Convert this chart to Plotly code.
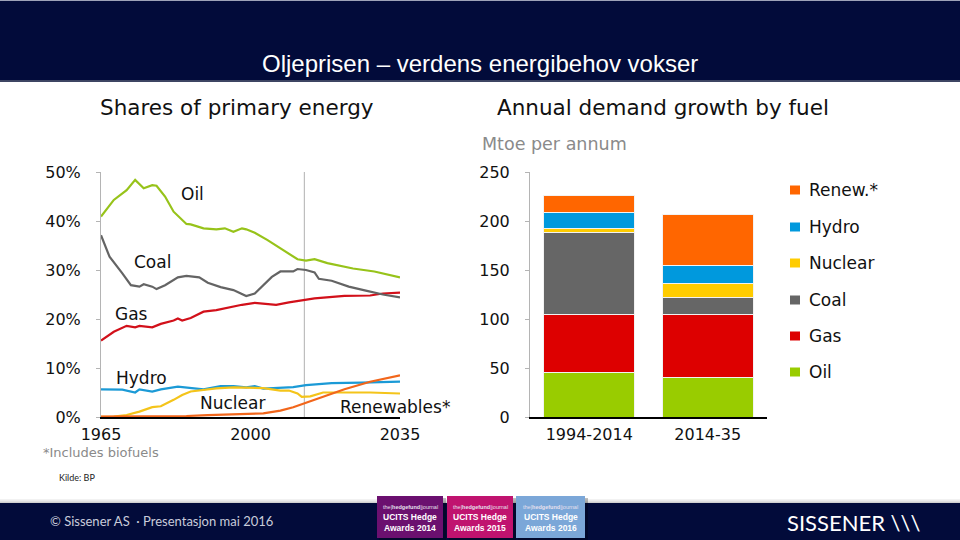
import plotly.graph_objects as go

# ---------------- data ----------------
year_ticks = [1965, 2000, 2035]
share_ticks = [0, 10, 20, 30, 40, 50]

oil_years = [1965, 1968, 1971, 1973, 1975, 1977, 1978, 1980, 1982, 1985, 1986, 1989, 1992, 1994, 1996, 1998, 1999, 2001, 2004, 2007, 2009, 2011, 2013, 2015, 2018, 2024, 2029, 2035]
oil_share = [40.9, 44.3, 46.3, 48.4, 46.7, 47.3, 47.2, 45.0, 41.9, 39.4, 39.3, 38.5, 38.3, 38.5, 37.8, 38.5, 38.3, 37.6, 36.1, 34.4, 33.3, 32.2, 31.9, 32.2, 31.4, 30.3, 29.7, 28.5]

coal_years = [1965, 1967, 1970, 1972, 1974, 1975, 1977, 1978, 1980, 1983, 1985, 1988, 1990, 1993, 1996, 1999, 2001, 2003, 2005, 2007, 2010, 2011, 2013, 2015, 2016, 2019, 2023, 2027, 2031, 2035]
coal_share = [37.1, 32.7, 29.3, 26.9, 26.6, 27.1, 26.6, 26.1, 26.9, 28.5, 28.8, 28.5, 27.4, 26.5, 25.9, 24.7, 25.2, 26.9, 28.6, 29.7, 29.7, 30.2, 30.0, 29.5, 28.2, 27.8, 26.6, 25.8, 25.0, 24.4]

gas_years = [1965, 1968, 1971, 1973, 1974, 1977, 1979, 1982, 1983, 1984, 1986, 1989, 1992, 1995, 1998, 2001, 2003, 2006, 2009, 2011, 2013, 2015, 2022, 2028, 2031, 2035]
gas_share = [15.6, 17.4, 18.6, 18.3, 18.6, 18.3, 19.0, 19.7, 20.1, 19.7, 20.2, 21.5, 21.8, 22.4, 22.9, 23.3, 23.1, 22.9, 23.4, 23.7, 23.9, 24.2, 24.7, 24.8, 25.2, 25.4]

hydro_years = [1965, 1970, 1973, 1974, 1977, 1979, 1983, 1986, 1989, 1993, 1996, 1999, 2001, 2003, 2007, 2010, 2013, 2019, 2026, 2035]
hydro_share = [5.65, 5.6, 5.0, 5.65, 5.2, 5.65, 6.2, 5.9, 5.65, 6.3, 6.3, 6.05, 6.3, 5.8, 6.0, 6.1, 6.5, 6.9, 7.0, 7.2]

nuclear_years = [1965, 1968, 1971, 1974, 1977, 1979, 1982, 1984, 1986, 1989, 1992, 1996, 2000, 2003, 2007, 2009, 2011, 2012, 2014, 2017, 2022, 2028, 2035]
nuclear_share = [0.05, 0.1, 0.4, 1.1, 2.0, 2.2, 3.5, 4.5, 5.2, 5.5, 5.85, 6.05, 6.05, 5.9, 5.4, 5.4, 4.8, 4.1, 4.2, 5.0, 5.0, 5.0, 4.8]

renew_years = [1965, 1975, 1985, 1990, 1995, 2001, 2003, 2007, 2010, 2013, 2016, 2022, 2028, 2035]
renew_share = [0.1, 0.1, 0.2, 0.4, 0.5, 0.6, 0.75, 1.3, 2.0, 2.9, 3.8, 5.65, 7.2, 8.5]

projection_year = 2012.6

periods = ["1994-2014", "2014-35"]
growth_ticks = [0, 50, 100, 150, 200, 250]
fuels = ["Oil", "Gas", "Coal", "Nuclear", "Hydro", "Renew.*"]
oil_growth = [45, 40]
gas_growth = [60, 65]
coal_growth = [83, 17]
nuclear_growth = [4, 14]
hydro_growth = [17, 19]
renew_growth = [17, 52]

# ---------------- helpers ----------------
W, H = 960, 540
def X(px):
    return px / W
def Y(py):
    return 1 - py / H

NAVY = "#020b3a"
CHART_FONT = "DejaVu Sans"

line_colors = {"Oil": "#97c31a", "Coal": "#646464", "Gas": "#d2101a",
               "Hydro": "#1b9ad6", "Nuclear": "#f4c41a", "Renewables": "#f2661b"}
bar_colors = ["#99cc00", "#dd0000", "#666666", "#ffcc00", "#0099dd", "#ff6600"]

fig = go.Figure()

line_series = [
    ("Hydro", hydro_years, hydro_share),
    ("Nuclear", nuclear_years, nuclear_share),
    ("Renewables", renew_years, renew_share),
    ("Gas", gas_years, gas_share),
    ("Coal", coal_years, coal_share),
    ("Oil", oil_years, oil_share),
]
for name, xs, ys in line_series:
    fig.add_trace(go.Scatter(x=xs, y=ys, mode="lines", name=name,
                             line=dict(color=line_colors[name], width=2.2),
                             xaxis="x", yaxis="y", showlegend=False, hoverinfo="skip"))

growth_series = [oil_growth, gas_growth, coal_growth, nuclear_growth, hydro_growth, renew_growth]
for name, vals, col in zip(fuels, growth_series, bar_colors):
    fig.add_trace(go.Bar(x=periods, y=vals, name=name, width=0.765,
                         marker=dict(color=col, line=dict(color="#f2f2f2", width=1)),
                         xaxis="x2", yaxis="y2", showlegend=False, hoverinfo="skip"))

tickfont = dict(family=CHART_FONT, size=16, color="#111111")

fig.update_layout(
    template="none",
    width=W, height=H, margin=dict(l=0, r=0, t=0, b=0, pad=0, autoexpand=False),
    paper_bgcolor="white", plot_bgcolor="rgba(0,0,0,0)",
    showlegend=False, barmode="stack",
    xaxis=dict(domain=[X(101), X(400)], range=[1965, 2035], tickvals=year_ticks,
               ticktext=[str(v) for v in year_ticks], showgrid=False, zeroline=False,
               showline=True, linecolor="black", linewidth=2, ticks="",
               tickfont=tickfont, ticklabelstandoff=2, automargin=False, anchor="y"),
    yaxis=dict(domain=[Y(417), Y(172)], range=[0, 50], tickvals=share_ticks,
               ticktext=[f"{v}%" for v in share_ticks], showgrid=False, zeroline=False,
               showline=True, linecolor="#b4b4b4", linewidth=1, ticks="outside",
               ticklen=4, tickcolor="#b4b4b4", tickfont=tickfont,
               ticklabelstandoff=12, automargin=False, anchor="x"),
    xaxis2=dict(domain=[X(530), X(767)], range=[-0.5, 1.5], type="category",
                showgrid=False, zeroline=False, showline=True, linecolor="black",
                linewidth=2, ticks="", tickfont=tickfont, ticklabelstandoff=2,
                automargin=False, anchor="y2"),
    yaxis2=dict(domain=[Y(417), Y(172)], range=[0, 250], tickvals=growth_ticks,
                showgrid=False, zeroline=False, showline=True, linecolor="#b4b4b4",
                linewidth=1, ticks="outside", ticklen=4, tickcolor="#b4b4b4",
                tickfont=tickfont, ticklabelstandoff=12, automargin=False, anchor="x2"),
)

shapes = []
annots = []

# header band
shapes.append(dict(type="rect", xref="paper", yref="paper", x0=0, x1=1, y0=Y(81), y1=1,
                   fillcolor=NAVY, line=dict(width=0), layer="below"))
shapes.append(dict(type="rect", xref="paper", yref="paper", x0=0, x1=1, y0=Y(1), y1=1,
                   fillcolor="#9ea3b8", line=dict(width=0), layer="below"))
shapes.append(dict(type="rect", xref="paper", yref="paper", x0=0, x1=1, y0=Y(82), y1=Y(80),
                   fillcolor="#3d4563", line=dict(width=0), layer="below"))
annots.append(dict(x=0.5, y=Y(64), xref="paper", yref="paper", showarrow=False,
                   text="Oljeprisen – verdens energibehov vokser",
                   font=dict(family="Liberation Sans", size=24, color="white"),
                   xanchor="center", yanchor="middle"))

# footer band with shadow
for i, op in enumerate([0.05, 0.08, 0.12, 0.18]):
    shapes.append(dict(type="rect", xref="paper", yref="paper", x0=0, x1=1,
                       y0=Y(503 - (3 - i)), y1=Y(503 - (4 - i)),
                       fillcolor=f"rgba(0,0,0,{op})", line=dict(width=0), layer="below"))
shapes.append(dict(type="rect", xref="paper", yref="paper", x0=0, x1=1, y0=0, y1=Y(503),
                   fillcolor=NAVY, line=dict(width=0), layer="below"))
annots.append(dict(x=X(48), y=Y(521), xref="paper", yref="paper", showarrow=False,
                   text="© Sissener AS  · Presentasjon mai 2016",
                   font=dict(family="Lato", size=13, color="#c9ccda"),
                   xanchor="left", yanchor="middle"))
annots.append(dict(x=X(922), y=Y(522), xref="paper", yref="paper", showarrow=False,
                   text="SISSENER \\\\\\",
                   font=dict(family="Lato", size=22, color="white"),
                   xanchor="right", yanchor="middle"))
annots.append(dict(x=X(57), y=Y(477), xref="paper", yref="paper", showarrow=False,
                   text="Kilde: BP", font=dict(family="Lato", size=9, color="#222222"),
                   xanchor="left", yanchor="middle"))

# award badges
badges = [(377, 443, "#6b106f", "2014"), (447, 513, "#c0136f", "2015"), (516, 585, "#7ba7d8", "2016")]
for x0, x1, col, yr in badges:
    shapes.append(dict(type="rect", xref="paper", yref="paper", x0=X(x0 + 2), x1=X(x1 + 3),
                       y0=Y(540), y1=Y(498), fillcolor="rgba(0,0,0,0.25)",
                       line=dict(width=0), layer="below"))
    shapes.append(dict(type="rect", xref="paper", yref="paper", x0=X(x0), x1=X(x1),
                       y0=Y(538), y1=Y(496), fillcolor=col, line=dict(width=0), layer="above"))
    cx = X((x0 + x1) / 2)
    annots.append(dict(x=cx, y=Y(507), xref="paper", yref="paper", showarrow=False,
                       text="the|<b>hedgefund</b>|journal",
                       font=dict(family="Liberation Sans", size=5.5, color="#e6e0ee"),
                       xanchor="center", yanchor="middle", borderpad=0))
    annots.append(dict(x=cx, y=Y(522.5), xref="paper", yref="paper", showarrow=False,
                       text=f"<b>UCITS Hedge</b><br><b>Awards {yr}</b>",
                       font=dict(family="Liberation Sans", size=8.5, color="white"),
                       xanchor="center", yanchor="middle", borderpad=0))

# left chart: projection divider
shapes.append(dict(type="line", xref="x", yref="y", x0=projection_year, x1=projection_year,
                   y0=0, y1=50, line=dict(color="#b0b0b0", width=1), layer="below"))

# chart titles
annots.append(dict(x=X(237), y=Y(108), xref="paper", yref="paper", showarrow=False,
                   text="Shares of primary energy",
                   font=dict(family=CHART_FONT, size=21.5, color="#111111"),
                   xanchor="center", yanchor="middle"))
annots.append(dict(x=X(663), y=Y(108), xref="paper", yref="paper", showarrow=False,
                   text="Annual demand growth by fuel",
                   font=dict(family=CHART_FONT, size=21.5, color="#111111"),
                   xanchor="center", yanchor="middle"))
annots.append(dict(x=X(480), y=Y(144), xref="paper", yref="paper", showarrow=False,
                   text="Mtoe per annum",
                   font=dict(family=CHART_FONT, size=17.5, color="#8a8a8a"),
                   xanchor="left", yanchor="middle"))

# series labels on the line chart
series_labels = [("Oil", 192.5, 194), ("Coal", 152.5, 262), ("Gas", 131.5, 314),
                 ("Hydro", 141.5, 378), ("Nuclear", 232.5, 402.5), ("Renewables*", 395, 406.5)]
for txt, px, py in series_labels:
    annots.append(dict(x=X(px), y=Y(py), xref="paper", yref="paper", showarrow=False,
                       text=txt, font=dict(family=CHART_FONT, size=17, color="#111111"),
                       xanchor="center", yanchor="middle"))
annots.append(dict(x=X(42), y=Y(452), xref="paper", yref="paper", showarrow=False,
                   text="*Includes biofuels",
                   font=dict(family=CHART_FONT, size=13, color="#8a8a8a"),
                   xanchor="left", yanchor="middle", borderpad=0))

# custom legend for the bar chart (top to bottom: Renew.* ... Oil)
legend_rows = [190, 227, 263, 300, 336, 372]
for (name, col), py in zip(list(zip(fuels, bar_colors))[::-1], legend_rows):
    shapes.append(dict(type="rect", xref="paper", yref="paper", x0=X(790), x1=X(800),
                       y0=Y(py + 4.5), y1=Y(py - 4.5), fillcolor=col, line=dict(width=0)))
    annots.append(dict(x=X(807), y=Y(py), xref="paper", yref="paper", showarrow=False,
                       text=name, font=dict(family=CHART_FONT, size=17, color="#111111"),
                       xanchor="left", yanchor="middle"))

fig.update_layout(shapes=shapes, annotations=annots)
fig.write_html("out.html")
